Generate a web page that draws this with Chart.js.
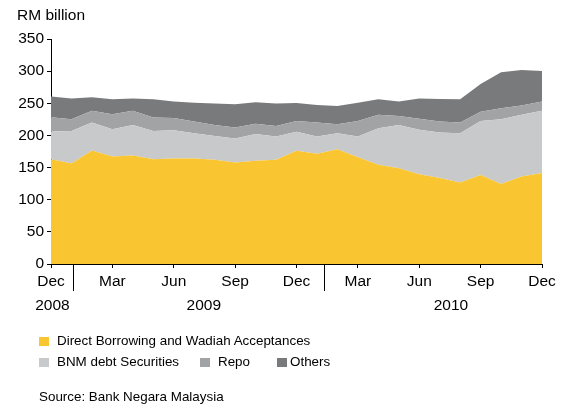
<!DOCTYPE html>
<html>
<head>
<meta charset="utf-8">
<script src="https://cdn.jsdelivr.net/npm/chart.js@4.4.1/dist/chart.umd.min.js"></script>
<style>
  body { margin: 0; background: #fff; font-family: "Liberation Sans", Arial, sans-serif; color: #000; }
  #wrap { position: relative; width: 561px; height: 407px; overflow: hidden; }
  #wrap canvas { position: absolute; left: 0; top: 0; }
  .txt { position: absolute; white-space: nowrap; line-height: 16px; }
  .unit { left: 17px; top: 7px; font-size: 15.5px; }
  .leg { font-size: 13.4px; }
  .sw { position: absolute; width: 10px; height: 9px; }
</style>
</head>
<body>
<div id="wrap">
  <canvas id="liqChart" width="561" height="407"></canvas>
  <div class="txt unit">RM billion</div>
  <div id="legend"></div>
  <div class="txt leg" style="left:39px; top:389px;">Source: Bank Negara Malaysia</div>
</div>
<script>
// Monthly, Dec 2008 - Dec 2010 (RM billion)
const months = ['Dec', 'Jan', 'Feb', 'Mar', 'Apr', 'May', 'Jun', 'Jul', 'Aug', 'Sep', 'Oct', 'Nov',
                'Dec', 'Jan', 'Feb', 'Mar', 'Apr', 'May', 'Jun', 'Jul', 'Aug', 'Sep', 'Oct', 'Nov', 'Dec'];

const directBorrowing = [163, 156.3, 176.5, 167.2, 168.7, 163.1, 164, 164, 162, 157.8, 160.5, 162,
                         176.3, 171.4, 178.6, 166.2, 154.3, 149.1, 139.5, 133.6, 126.8, 138.5, 124.3, 136.1, 141.4];
const bnmSecurities   = [43, 50.7, 43.5, 42.5, 47.7, 43.9, 44, 39.5, 37.3, 37.3, 41.9, 36.2,
                         29.4, 26.8, 24.9, 32, 57, 67.3, 69.5, 70.8, 76.7, 84.1, 101, 95.9, 96.8];
const repo            = [22.4, 18.3, 18.2, 23.3, 21.8, 20.8, 19.3, 18, 17.1, 17.1, 15.6, 16.6,
                         16.9, 21.8, 14, 24.4, 20.7, 14, 17, 17.1, 16.5, 14.4, 17, 14.4, 14.4];
const others          = [32, 32, 21.2, 23.3, 19.1, 28.5, 25.3, 29.5, 33.1, 36.3, 33.7, 34.7,
                         27.9, 27.5, 28.4, 28.4, 24.3, 22.2, 31.3, 35.3, 36.3, 43, 56, 55.5, 47.7];

const seriesNames = ['Direct Borrowing and Wadiah Acceptances', 'BNM debt Securities', 'Repo', 'Others'];
const seriesColors = ['#F9C631', '#C8C9CB', '#A2A3A5', '#797A7C'];

const yTicks = [0, 350, 50]; // min, max, step

// year captions under the month labels, and the long year-break ticks (category index units)
const years = ['2008', '2009', '2010'];
const yearAt = [0.07, 7.47, 19.55];
const yearBreaks = [1.07, 13.36];

// legend placement
const legendSlots = [
  { x: 39, y: 341, tx: 57 },
  { x: 39, y: 362, tx: 57 },
  { x: 200, y: 362, tx: 218 },
  { x: 277, y: 362, tx: 290 }
];

const legendEl = document.getElementById('legend');
seriesNames.forEach((name, i) => {
  const s = legendSlots[i];
  const sw = document.createElement('div');
  sw.className = 'sw';
  sw.style.left = s.x + 'px';
  sw.style.top = (s.y - 4.5) + 'px';
  sw.style.background = seriesColors[i];
  legendEl.appendChild(sw);
  const lbl = document.createElement('div');
  lbl.className = 'txt leg';
  lbl.style.left = s.tx + 'px';
  lbl.style.top = (s.y - 8) + 'px';
  lbl.textContent = name;
  legendEl.appendChild(lbl);
});

const yearAxis = {
  id: 'yearAxis',
  afterDraw(chart) {
    const { ctx, scales: { x } } = chart;
    const y0 = x.top;
    ctx.save();
    ctx.strokeStyle = '#000';
    ctx.lineWidth = 1;
    yearBreaks.forEach(v => {
      const px = Math.round(x.getPixelForValue(v)) + 0.5;
      ctx.beginPath();
      ctx.moveTo(px, y0);
      ctx.lineTo(px, y0 + 27);
      ctx.stroke();
    });
    ctx.fillStyle = '#000';
    ctx.font = '15.5px "Liberation Sans", Arial, sans-serif';
    ctx.textAlign = 'center';
    ctx.textBaseline = 'middle';
    years.forEach((t, i) => ctx.fillText(t, x.getPixelForValue(yearAt[i]), y0 + 41.5));
    ctx.restore();
  }
};

const data = [directBorrowing, bnmSecurities, repo, others];

new Chart(document.getElementById('liqChart'), {
  type: 'line',
  data: {
    labels: months,
    datasets: data.map((d, i) => ({
      label: seriesNames[i],
      data: d,
      backgroundColor: seriesColors[i],
      borderColor: 'rgba(0,0,0,0)',
      borderWidth: 0,
      pointRadius: 0,
      tension: 0,
      fill: i === 0 ? 'origin' : '-1'
    }))
  },
  options: {
    responsive: false,
    animation: false,
    layout: { padding: { left: 15, right: 19, top: 39, bottom: 103 } },
    plugins: {
      legend: { display: false },
      tooltip: { enabled: false }
    },
    scales: {
      x: {
        offset: false,
        border: { color: '#000', width: 1 },
        grid: {
          drawOnChartArea: false,
          tickLength: 4,
          color: c => (c.index % 3 === 0 ? '#000' : 'rgba(0,0,0,0)')
        },
        ticks: {
          autoSkip: false,
          maxRotation: 0,
          minRotation: 0,
          padding: 4,
          color: '#000',
          font: { family: '"Liberation Sans", Arial, sans-serif', size: 15.5 },
          callback: (v, i) => (i % 3 === 0 ? months[i] : '')
        },
        afterFit: s => { s.height = 40; }
      },
      y: {
        stacked: true,
        min: yTicks[0],
        max: yTicks[1],
        border: { color: '#000', width: 1 },
        grid: { drawOnChartArea: false, tickLength: 4, color: '#000' },
        ticks: {
          stepSize: yTicks[2],
          padding: 3,
          color: '#000',
          font: { family: '"Liberation Sans", Arial, sans-serif', size: 15.5 }
        },
        afterFit: s => { s.width = 36; }
      }
    }
  },
  plugins: [yearAxis]
});
</script>
</body>
</html>
